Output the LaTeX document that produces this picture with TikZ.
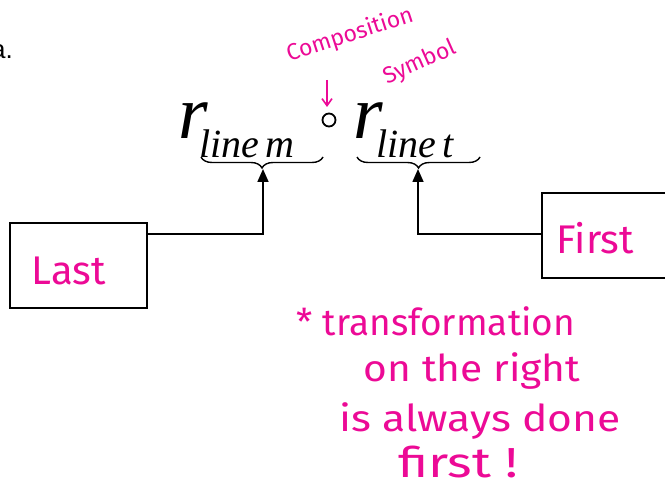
\documentclass[tikz,border=0pt]{standalone}
\usepackage{fontspec}
\setmainfont{Liberation Serif}
\newfontfamily\hand{Fira Sans}
\newfontfamily\plainsans{Liberation Sans}
\usetikzlibrary{arrows.meta,decorations.pathreplacing,calc}
\definecolor{ink}{RGB}{236,10,150}
\tikzset{
  box/.style={draw,line width=1.8pt,minimum width=137pt,minimum height=85pt,inner sep=0pt},
  note/.style={text=ink,font=\hand\fontsize{40}{44}\selectfont},
  remark/.style={text=ink,font=\hand\fontsize{37}{40}\selectfont,inner sep=1pt},
  small note/.style={text=ink,font=\hand\fontsize{23}{26}\selectfont,inner sep=0pt},
  wire/.style={line width=1.6pt},
  feed/.style={wire,-{Triangle[length=13pt,width=11pt]}},
  underbrace/.style={decorate,decoration={brace,mirror,amplitude=11pt,raise=0pt},line width=1.4pt},
  bigr/.style={font=\itshape\fontsize{76}{80}\selectfont,inner sep=0pt},
  subs/.style={font=\itshape\fontsize{40}{44}\selectfont,inner sep=0pt}
}
\begin{document}
\begin{tikzpicture}[x=1pt,y=-1pt]
\useasboundingbox (0,0) rectangle (665,492);

% leftover label from the page
\node[anchor=east,inner sep=0pt,font=\plainsans\fontsize{26}{28}\selectfont] (pagelabel) at (13,52) {a.};

% composition r_{line m} o r_{line t}
\node[bigr,anchor=base] (rm) at (193,139) {r};
\node[subs,anchor=base west] (sm) at (199,158) {line\,m};
\draw[line width=1.8pt] (329,120) circle (6.5pt);
\node[bigr,anchor=base] (rt) at (368,139) {r};
\node[subs,anchor=base west] (st) at (376,158) {line\,t};

% underbraces
\coordinate (bl1) at (201,157);
\coordinate (bl2) at (323,157);
\coordinate (br1) at (357,157);
\coordinate (br2) at (480,157);
\draw[underbrace] (bl1) -- (bl2);
\draw[underbrace] (br1) -- (br2);
\coordinate (tipm) at (263,169);
\coordinate (tipt) at (418,169);

% boxes
\node[box,anchor=north west] (last) at (9,222) {};
\node[note,anchor=west] at ($(last.west)+(19,6)$) (lasttxt) {Last};
\node[box,anchor=north west] (first) at (541,192) {};
\node[note,anchor=west] at ($(first.west)+(12,3)$) (firsttxt) {First};

% connectors
\draw[feed] (last.east |- 0,234) -| (tipm);
\draw[feed] (first.west |- 0,234) -| (tipt);

% annotation on the composition symbol
\node[small note,rotate=18] (compnote) at (350,35) {Composition};
\node[small note,rotate=24] (symnote) at (420,63) {Symbol};
\coordinate (arrstart) at (327,80);
\coordinate (arrend) at (327,107);
\draw[ink,line width=1.6pt,-{Straight Barb[length=7pt,width=10pt]}] (arrstart) -- (arrend);

% remark
\node[remark] (l1) at (436,321) {* transformation};
\node[remark,xscale=1.1] (l2) at (472,371) {on the right};
\node[remark,xscale=1.15] (l3) at (480,421) {is always done};
\node[remark,font=\hand\fontsize{42}{46}\selectfont,xscale=1.25] (l4) at (458,462) {first !};
\end{tikzpicture}
\end{document}
